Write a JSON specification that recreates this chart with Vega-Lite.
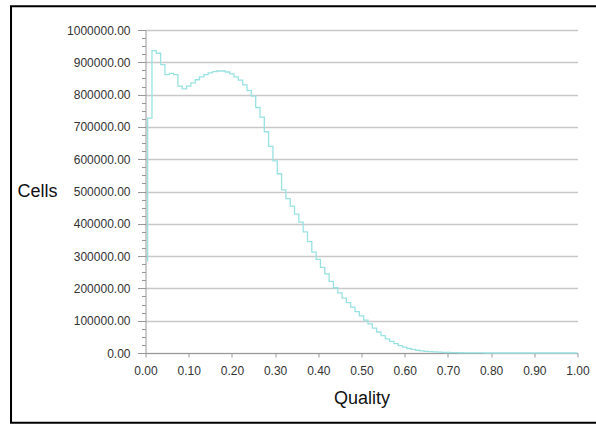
{
  "$schema": "https://vega.github.io/schema/vega-lite/v6.json",
  "width": 432,
  "height": 323,
  "autosize": {"type": "none"},
  "padding": {"left": 145.5, "top": 30, "right": 18.5, "bottom": 71},
  "background": "white",
  "config": {"view": {"stroke": null}, "font": "Liberation Sans"},
  "layer": [
    {
      "data": {"values": [
        {"quality": 0.004, "cells": 285000},
        {"quality": 0.005, "cells": 727000},
        {"quality": 0.015, "cells": 936000},
        {"quality": 0.025, "cells": 928000},
        {"quality": 0.035, "cells": 893000},
        {"quality": 0.045, "cells": 862000},
        {"quality": 0.055, "cells": 866000},
        {"quality": 0.065, "cells": 862000},
        {"quality": 0.075, "cells": 826000},
        {"quality": 0.085, "cells": 818000},
        {"quality": 0.095, "cells": 826000},
        {"quality": 0.105, "cells": 836000},
        {"quality": 0.115, "cells": 846000},
        {"quality": 0.125, "cells": 855000},
        {"quality": 0.135, "cells": 862000},
        {"quality": 0.145, "cells": 867000},
        {"quality": 0.155, "cells": 871000},
        {"quality": 0.165, "cells": 873000},
        {"quality": 0.175, "cells": 873000},
        {"quality": 0.185, "cells": 870000},
        {"quality": 0.195, "cells": 864000},
        {"quality": 0.205, "cells": 855000},
        {"quality": 0.215, "cells": 845000},
        {"quality": 0.225, "cells": 830000},
        {"quality": 0.235, "cells": 812000},
        {"quality": 0.245, "cells": 795000},
        {"quality": 0.255, "cells": 760000},
        {"quality": 0.265, "cells": 730000},
        {"quality": 0.275, "cells": 685000},
        {"quality": 0.285, "cells": 640000},
        {"quality": 0.295, "cells": 595000},
        {"quality": 0.305, "cells": 555000},
        {"quality": 0.315, "cells": 505000},
        {"quality": 0.325, "cells": 478000},
        {"quality": 0.335, "cells": 455000},
        {"quality": 0.345, "cells": 430000},
        {"quality": 0.355, "cells": 405000},
        {"quality": 0.365, "cells": 375000},
        {"quality": 0.375, "cells": 345000},
        {"quality": 0.385, "cells": 312000},
        {"quality": 0.395, "cells": 290000},
        {"quality": 0.405, "cells": 265000},
        {"quality": 0.415, "cells": 245000},
        {"quality": 0.425, "cells": 222000},
        {"quality": 0.435, "cells": 202000},
        {"quality": 0.445, "cells": 186000},
        {"quality": 0.455, "cells": 170000},
        {"quality": 0.465, "cells": 156000},
        {"quality": 0.475, "cells": 142000},
        {"quality": 0.485, "cells": 128000},
        {"quality": 0.495, "cells": 115000},
        {"quality": 0.505, "cells": 102000},
        {"quality": 0.515, "cells": 90000},
        {"quality": 0.525, "cells": 77000},
        {"quality": 0.535, "cells": 65000},
        {"quality": 0.545, "cells": 54000},
        {"quality": 0.555, "cells": 44000},
        {"quality": 0.565, "cells": 36000},
        {"quality": 0.575, "cells": 29000},
        {"quality": 0.585, "cells": 23000},
        {"quality": 0.595, "cells": 18000},
        {"quality": 0.605, "cells": 14000},
        {"quality": 0.615, "cells": 11000},
        {"quality": 0.625, "cells": 8500},
        {"quality": 0.635, "cells": 6500},
        {"quality": 0.645, "cells": 5000},
        {"quality": 0.655, "cells": 4000},
        {"quality": 0.665, "cells": 3200},
        {"quality": 0.675, "cells": 2600},
        {"quality": 0.685, "cells": 2000},
        {"quality": 0.695, "cells": 1600},
        {"quality": 0.705, "cells": 1300},
        {"quality": 0.715, "cells": 1000},
        {"quality": 0.725, "cells": 800},
        {"quality": 0.735, "cells": 600},
        {"quality": 0.745, "cells": 400},
        {"quality": 0.755, "cells": 300},
        {"quality": 0.765, "cells": 200},
        {"quality": 0.775, "cells": 100},
        {"quality": 0.785, "cells": 0},
        {"quality": 1.0, "cells": 0}
      ]},
      "mark": {"type": "line", "interpolate": "step-after", "color": "#9ae2e2", "strokeWidth": 1.3},
      "encoding": {
        "x": {
          "field": "quality", "type": "quantitative",
          "scale": {"domain": [0, 1], "nice": false, "zero": false},
          "axis": {
            "title": "Quality",
            "values": [0, 0.1, 0.2, 0.3, 0.4, 0.5, 0.6, 0.7, 0.8, 0.9, 1.0],
            "tickCount": 20,
            "format": ".2f",
            "grid": false,
            "tickSize": 4,
            "labelPadding": 8,
            "labelFontSize": 12,
            "labelColor": "#333333",
            "labelFlush": false,
            "labelOverlap": false,
            "domainColor": "#999999",
            "tickColor": "#999999",
            "titleFontSize": 18,
            "titleFontWeight": "normal",
            "titleColor": "#111111",
            "titleY": 45,
            "titleBaseline": "middle"
          }
        },
        "y": {
          "field": "cells", "type": "quantitative",
          "scale": {"domain": [0, 1000000], "nice": false},
          "axis": {
            "title": "Cells",
            "values": [0, 25000, 50000, 75000, 100000, 125000, 150000, 175000, 200000, 225000, 250000, 275000, 300000, 325000, 350000, 375000, 400000, 425000, 450000, 475000, 500000, 525000, 550000, 575000, 600000, 625000, 650000, 675000, 700000, 725000, 750000, 775000, 800000, 825000, 850000, 875000, 900000, 925000, 950000, 975000, 1000000],
            "tickCount": 100,
            "labelExpr": "datum.value % 100000 === 0 ? format(datum.value, '.2f') : ''",
            "gridOpacity": {"condition": {"test": "datum.value % 100000 === 0", "value": 1}, "value": 0},
            "tickSize": {"condition": {"test": "datum.value % 100000 === 0", "value": 8}, "value": 4},
            "gridColor": "#c8c8c8",
            "gridWidth": 1.5,
            "labelPadding": 7.5,
            "labelFontSize": 12,
            "labelColor": "#333333",
            "labelFlush": false,
            "labelOverlap": false,
            "domainColor": "#999999",
            "tickColor": "#999999",
            "titleAngle": 0,
            "titleX": -108.5,
            "titleY": 161.5,
            "titleAlign": "center",
            "titleBaseline": "middle",
            "titleFontSize": 18,
            "titleFontWeight": "normal",
            "titleColor": "#111111"
          }
        }
      }
    },
    {
      "data": {"values": [{}]},
      "mark": {"type": "rect", "filled": false, "stroke": "#000000", "strokeWidth": 2},
      "encoding": {
        "x": {"datum": -0.3113, "type": "quantitative"},
        "x2": {"datum": 1.2},
        "y": {"datum": 1073375, "type": "quantitative"},
        "y2": {"datum": -215789}
      }
    }
  ]
}
